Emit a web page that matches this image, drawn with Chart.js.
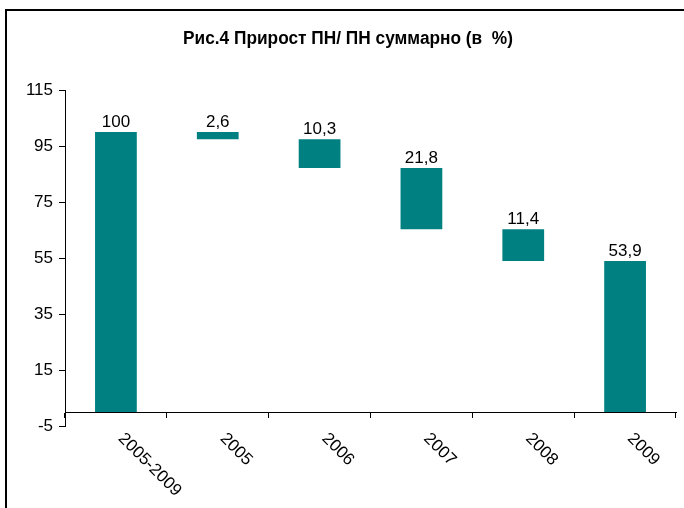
<!DOCTYPE html>
<html>
<head>
<meta charset="utf-8">
<script src="https://cdn.jsdelivr.net/npm/chart.js@4"></script>
<style>
    html, body { margin: 0; padding: 0; background: #fff; overflow: hidden; }
    #wrap { position: relative; width: 684px; height: 508px; }
    #rama { position: absolute; left: 5px; top: 9px; width: 800px; height: 600px; border: 2px solid #000; box-sizing: border-box; pointer-events: none; }
    #titulo { position: absolute; left: 148px; top: 28px; width: 400px; text-align: center; font: bold 18px 'Liberation Sans', Arial, sans-serif; color: #000; transform: scaleX(0.96); white-space: pre; }
    canvas { position: absolute; left: 0; top: 0; }
</style>
</head>
<body>
<div id="wrap">
    <canvas id="grafico" width="684" height="508"></canvas>
    <div id="titulo">Рис.4 Прирост ПН/ ПН суммарно (в  %)</div>
    <div id="rama"></div>
</div>
<script>
// datos
var categorias = ['2005-2009', '2005', '2006', '2007', '2008', '2009'];
var valores = [100, 2.6, 10.3, 21.8, 11.4, 53.9];
var bases = [0, 97.4, 87.1, 65.3, 53.9, 0];
var ticksY = [-5, 15, 35, 55, 75, 95, 115];

var rangos = [];
for (var i = 0; i < valores.length; i++) {
    rangos.push([bases[i], +(bases[i] + valores[i]).toFixed(1)]);
}

var fuente = "'Liberation Sans', Arial, sans-serif";

// etiquetas de valores encima de las barras
var etiquetasBarras = {
    id: 'etiquetasBarras',
    afterDatasetsDraw: function (chart) {
        var ctx = chart.ctx;
        var meta = chart.getDatasetMeta(0);
        ctx.save();
        ctx.font = '17px ' + fuente;
        ctx.fillStyle = '#000';
        ctx.textAlign = 'center';
        ctx.textBaseline = 'bottom';
        meta.data.forEach(function (barra, i) {
            var arriba = Math.min(barra.y, barra.base);
            ctx.fillText(String(valores[i]).replace('.', ','), barra.x, arriba - 1);
        });
        ctx.restore();
    }
};

// etiquetas del eje X giradas 45 grados
var etiquetasX = {
    id: 'etiquetasX',
    afterDraw: function (chart) {
        var ctx = chart.ctx;
        var ejeX = chart.scales.x;
        var y0 = chart.scales.y.getPixelForValue(-5);
        ctx.save();
        ctx.font = '17px ' + fuente;
        ctx.fillStyle = '#000';
        ctx.textAlign = 'left';
        ctx.textBaseline = 'top';
        categorias.forEach(function (cat, i) {
            ctx.save();
            ctx.translate(ejeX.getPixelForValue(i) + 11, y0 + 4);
            ctx.rotate(Math.PI / 4);
            ctx.fillText(cat, 0, 0);
            ctx.restore();
        });
        ctx.restore();
    }
};

var grafico = new Chart(document.getElementById('grafico'), {
    type: 'bar',
    data: {
        labels: categorias,
        datasets: [{
            data: rangos,
            backgroundColor: '#008080',
            borderWidth: 0,
            categoryPercentage: 1,
            barPercentage: 0.41
        }]
    },
    options: {
        responsive: false,
        animation: false,
        layout: { padding: { left: 0, right: 8, top: 90, bottom: 82 } },
        plugins: {
            legend: { display: false },
            tooltip: { enabled: false },
            title: { display: false }
        },
        scales: {
            x: {
                position: { y: 0 },
                grid: { display: true, drawOnChartArea: false, drawTicks: true, tickLength: 5, color: '#000', offset: true },
                border: { display: true, color: '#000', width: 1 },
                ticks: { display: false }
            },
            y: {
                min: -5,
                max: 115,
                afterFit: function (eje) { eje.width = 65; },
                afterBuildTicks: function (eje) {
                    eje.ticks = ticksY.map(function (v) { return { value: v }; });
                },
                grid: { display: true, drawOnChartArea: false, drawTicks: true, tickLength: 6, color: '#000' },
                border: { display: true, color: '#000', width: 1 },
                ticks: {
                    color: '#000',
                    padding: 6,
                    font: { family: fuente, size: 17 }
                }
            }
        }
    },
    plugins: [etiquetasBarras, etiquetasX]
});
</script>
</body>
</html>
